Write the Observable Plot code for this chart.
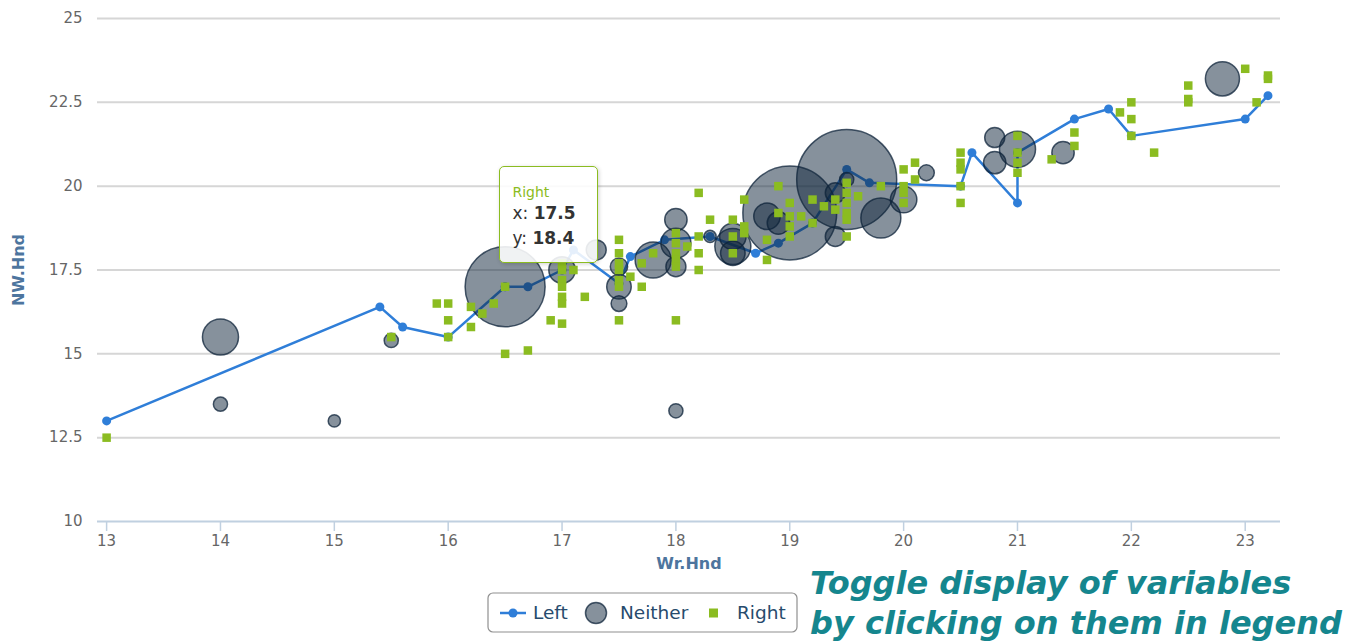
<!DOCTYPE html>
<html>
<head>
<meta charset="utf-8">
<script src="https://cdn.jsdelivr.net/npm/d3@7"></script>
<script src="https://cdn.jsdelivr.net/npm/@observablehq/plot@0.6"></script>
<style>
  html, body { margin: 0; padding: 0; background: #fff; }
  #wrap { position: relative; width: 1368px; height: 642px; font-family: "DejaVu Sans", sans-serif; overflow: hidden; }
  #tip {
    position: absolute; box-sizing: border-box; width: 99px; height: 97px;
    background: rgba(255,255,255,0.88); border: 1.5px solid #8bbc21; border-radius: 5px;
    box-shadow: 1px 1px 4px rgba(0,0,0,0.18); padding: 16px 0 0 12px; color: #333;
  }
  #tip .name { color: #8bbc21; font-size: 14px; line-height: 18px; }
  #tip .row { font-size: 17px; line-height: 25px; }
  #legend { position: absolute; left: 487px; top: 592px; }
  #note {
    position: absolute; left: 810px; top: 563px; color: #15868e;
    font-family: "DejaVu Sans", sans-serif; font-weight: bold; font-style: italic;
    font-size: 32px; line-height: 40px; white-space: nowrap;
  }
</style>
</head>
<body>
<div id="wrap"></div>
<script>
// Handedness survey: writing-hand span (Wr.Hnd) vs non-writing-hand span (NW.Hnd), by clap group
const seriesNames = ["Left", "Neither", "Right"];
const xTicks = [13, 14, 15, 16, 17, 18, 19, 20, 21, 22, 23];
const yTicks = [10, 12.5, 15, 17.5, 20, 22.5, 25];

const leftX = [13, 15.4, 15.6, 16, 16.5, 16.7, 17, 17.1, 17.5, 17.6, 17.9, 18.3, 18.7, 18.9, 19.2, 19.5, 19.7, 20.5, 20.6, 21, 21, 21.5, 21.8, 22, 23, 23.2];
const leftY = [13, 16.4, 15.8, 15.5, 17, 17, 17.5, 18.1, 17.1, 17.9, 18.4, 18.5, 18, 18.3, 18.9, 20.5, 20.1, 20, 21, 19.5, 21, 22, 22.3, 21.5, 22, 22.7];

const neitherX = [14, 14, 15, 15.5, 16.5, 17, 17.3, 17.5, 17.5, 17.5, 17.8, 18, 18, 18, 18, 18.3, 18.5, 18.5, 18.5, 18.8, 19, 18.9, 19.5, 19.4, 19.4, 19.5, 19.8, 20, 20.2, 20.8, 20.8, 21, 21.4, 22.8];
const neitherY = [15.5, 13.5, 13, 15.4, 17, 17.5, 18.1, 17, 16.5, 17.6, 17.8, 19, 18.3, 17.6, 13.3, 18.5, 18.2, 18.5, 18, 19.1, 19.2, 18.9, 20.2, 18.5, 19.8, 20.2, 19.05, 19.6, 20.4, 21.45, 20.7, 21.1, 21, 23.2];
const neitherZ = [13, 2, 1.5, 2, 64, 7, 4, 6, 2.5, 3, 13, 5, 9, 4, 2, 1.5, 13, 7, 6, 7, 88, 5, 100, 4, 4, 2, 16, 7, 2.5, 4, 5, 13, 5, 11.6];

const rightX = [13, 15.5, 15.9, 16, 16, 16, 16.2, 16.2, 16.3, 16.4, 16.5, 16.5, 16.7, 16.9, 17, 17, 17, 17, 17, 17, 17, 17.1, 17.2, 17.5, 17.5, 17.5, 17.5, 17.5, 17.5, 17.5, 17.6, 17.7, 17.7, 17.8, 18, 18, 18, 18, 18, 18, 18.1, 18.2, 18.2, 18.2, 18.2, 18.3, 18.5, 18.5, 18.5, 18.6, 18.6, 18.6, 18.8, 18.8, 18.9, 18.9, 19, 19, 19, 19, 19.1, 19.2, 19.2, 19.3, 19.4, 19.4, 19.5, 19.5, 19.5, 19.5, 19.5, 19.5, 19.6, 19.8, 20, 20, 20, 20, 20.1, 20.1, 20.5, 20.5, 20.5, 20.5, 20.5, 21, 21, 21, 21, 21.3, 21.5, 21.5, 21.9, 22, 22, 22, 22.2, 22.5, 22.5, 22.5, 23, 23.1, 23.2, 23.2];
const rightY = [12.5, 15.5, 16.5, 16.5, 16, 15.5, 16.4, 15.8, 16.2, 16.5, 17, 15, 15.1, 16, 15.9, 17.7, 17.5, 17.2, 17, 16.7, 16.5, 17.5, 16.7, 16, 18.4, 18, 17.7, 17.5, 17.2, 17, 17.3, 17, 17.7, 18, 18.6, 18.3, 18, 17.8, 17.6, 16, 18.2, 19.8, 18.5, 18, 17.5, 19, 19, 18.5, 18, 19.6, 18.8, 18.6, 18.4, 17.8, 20, 19.2, 19.5, 19.1, 18.8, 18.5, 19.1, 19.6, 18.9, 19.4, 19.6, 19.3, 20.1, 19.8, 19.5, 19.2, 19, 18.5, 19.7, 20, 20.5, 20, 19.8, 19.5, 20.7, 20.2, 21, 20.7, 20.5, 20, 19.5, 21.5, 21, 20.7, 20.4, 20.8, 21.6, 21.2, 22.2, 22.5, 22, 21.5, 21, 23, 22.6, 22.5, 23.5, 22.5, 23.3, 23.2];

// highlighted point shown in the hover box
const hoverSeries = "Right";
const hoverX = 17.5;
const hoverY = 18.4;

const colors = {Left: "#2f7ed8", Neither: "#0d233a", Right: "#8bbc21"};

const left = leftX.map((x, i) => ({x, y: leftY[i]}));
const neither = neitherX.map((x, i) => ({x, y: neitherY[i], z: neitherZ[i]}));
const right = rightX.map((x, i) => ({x, y: rightY[i]}));

const chart = Plot.plot({
  width: 1368,
  height: 580,
  marginLeft: 97,
  marginRight: 88,
  marginTop: 18,
  marginBottom: 59,
  style: {fontFamily: "'DejaVu Sans', sans-serif", background: "transparent", overflow: "visible"},
  x: {domain: [12.92, 23.31], label: null},
  y: {domain: [10, 25], label: null},
  r: {type: "sqrt", domain: [0, 100], range: [0, 50]},
  marks: [
    Plot.ruleY(yTicks.filter(d => d > 10), {stroke: "#d6d6d6", strokeWidth: 2}),
    Plot.ruleY([10], {stroke: "#c0d0e0", strokeWidth: 2}),
    Plot.axisY(yTicks, {tickSize: 0, tickPadding: 15, fontSize: 15, color: "#666", tickFormat: d => String(d), label: null}),
    Plot.axisX(xTicks, {tickSize: 10, color: "#c0d0e0", strokeWidth: 1.5, tickFormat: () => "", label: null}),
    Plot.axisX(xTicks, {tickSize: 0, tickPadding: 14, fontSize: 15, color: "#666", tickFormat: d => String(d), label: null}),
    Plot.text(["Wr.Hnd"], {frameAnchor: "bottom", dy: 42, lineAnchor: "middle", textAnchor: "middle",
      fontSize: 16, fontWeight: "bold", fill: "#4d759e"}),
    Plot.text(["NW.Hnd"], {frameAnchor: "left", dx: -79, rotate: -90, lineAnchor: "middle", textAnchor: "middle",
      fontSize: 16, fontWeight: "bold", fill: "#4d759e"}),
    Plot.line(left, {x: "x", y: "y", stroke: colors.Left, strokeWidth: 2.5}),
    Plot.dot(left, {x: "x", y: "y", r: 4.5, fill: colors.Left}),
    Plot.dot(neither, {x: "x", y: "y", r: "z", fill: colors.Neither, fillOpacity: 0.5,
      stroke: colors.Neither, strokeOpacity: 0.75, strokeWidth: 1.5}),
    Plot.dot(right, {x: "x", y: "y", symbol: "square", r: 4.8, fill: colors.Right})
  ]
});

const wrap = document.getElementById("wrap");
wrap.appendChild(chart);

// hover box anchored to the highlighted point through the chart scales
const px = chart.scale("x").apply(hoverX);
const py = chart.scale("y").apply(hoverY);
const tip = document.createElement("div");
tip.id = "tip";
tip.style.left = (px - 119) + "px";
tip.style.top = (py - 73) + "px";
tip.innerHTML = `<div class="name">${hoverSeries}</div>` +
  `<div class="row">x: <b>${hoverX}</b></div>` +
  `<div class="row">y: <b>${hoverY}</b></div>`;
wrap.appendChild(tip);

// legend
const legend = d3.create("svg")
  .attr("id", "legend")
  .attr("width", 312)
  .attr("height", 42)
  .style("font-family", "'DejaVu Sans', sans-serif");
legend.append("rect")
  .attr("x", 1).attr("y", 1).attr("width", 309).attr("height", 39).attr("rx", 5)
  .attr("fill", "#fff").attr("stroke", "#909090").attr("stroke-width", 1.2);
const items = legend.append("g").attr("transform", "translate(0,21)");
// Left
items.append("line").attr("x1", 13).attr("x2", 39).attr("stroke", colors.Left).attr("stroke-width", 2.5);
items.append("circle").attr("cx", 26).attr("r", 4.5).attr("fill", colors.Left);
// Neither
items.append("circle").attr("cx", 109).attr("r", 10.5)
  .attr("fill", colors.Neither).attr("fill-opacity", 0.5)
  .attr("stroke", colors.Neither).attr("stroke-opacity", 0.75).attr("stroke-width", 1.5);
// Right
items.append("rect").attr("x", 222).attr("y", -4.5).attr("width", 9).attr("height", 9).attr("fill", colors.Right);
const labelX = [46, 133, 250];
seriesNames.forEach((name, i) => {
  items.append("text").attr("x", labelX[i]).attr("dy", "0.35em")
    .attr("font-size", 18.5).attr("fill", "#274b6d").text(name);
});
wrap.appendChild(legend.node());

const note = document.createElement("div");
note.id = "note";
note.innerHTML = "Toggle display of variables<br>by clicking on them in legend";
wrap.appendChild(note);
</script>
</body>
</html>
